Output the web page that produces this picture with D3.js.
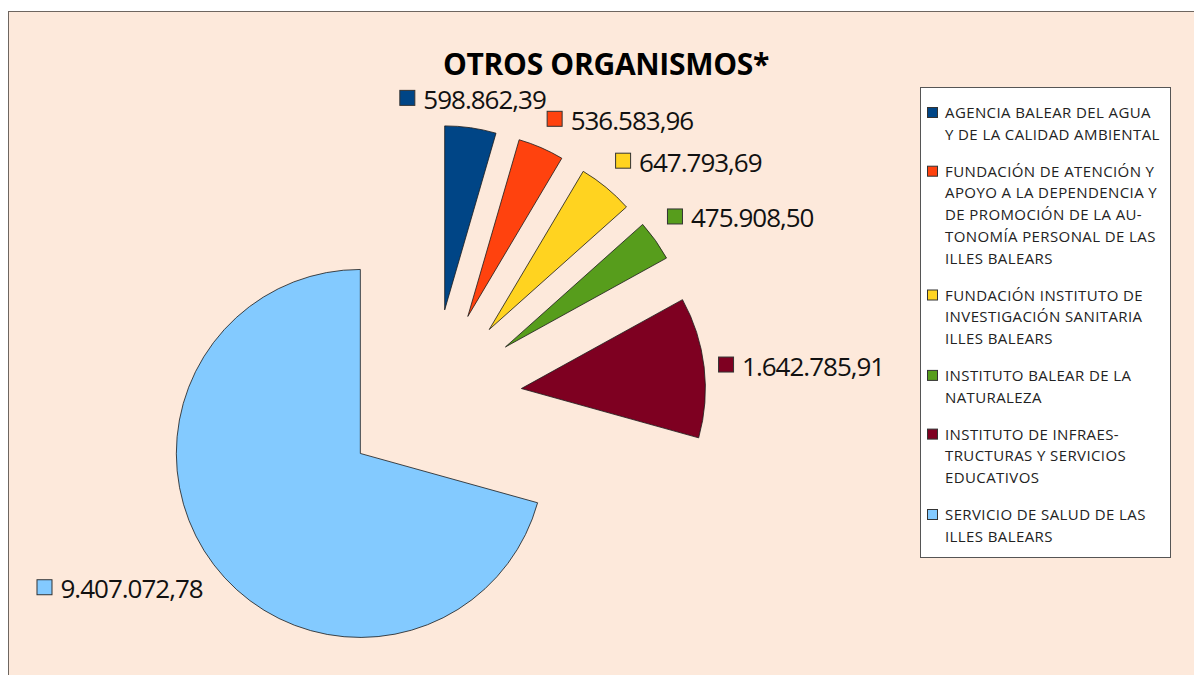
<!DOCTYPE html>
<html>
<head>
<meta charset="utf-8">
<script src="https://cdn.jsdelivr.net/npm/d3@7"></script>
<style>
  body { margin: 0; background: #fff; }
  svg { display: block; font-family: "Open Sans", "Noto Sans", sans-serif; }
</style>
</head>
<body>
<svg id="chart" width="1194" height="675"></svg>
<script>
// data
const categories = [
  "AGENCIA BALEAR DEL AGUA\nY DE LA CALIDAD AMBIENTAL",
  "FUNDACIÓN DE ATENCIÓN Y\nAPOYO A LA DEPENDENCIA Y\nDE PROMOCIÓN DE LA AU-\nTONOMÍA PERSONAL DE LAS\nILLES BALEARS",
  "FUNDACIÓN INSTITUTO DE\nINVESTIGACIÓN SANITARIA\nILLES BALEARS",
  "INSTITUTO BALEAR DE LA\nNATURALEZA",
  "INSTITUTO DE INFRAES-\nTRUCTURAS Y SERVICIOS\nEDUCATIVOS",
  "SERVICIO DE SALUD DE LAS\nILLES BALEARS"
];
const values = [598862.39, 536583.96, 647793.69, 475908.50, 1642785.91, 9407072.78];
const colors = ["#004586", "#ff420e", "#ffd320", "#579d1c", "#7e0021", "#83caff"];
const title = "OTROS ORGANISMOS*";

const svg = d3.select('#chart');

// background with the thin frame on the left/top
svg.append('rect')
  .attr('x', 8.5).attr('y', 11.5)
  .attr('width', 1300).attr('height', 800)
  .attr('fill', '#fde9db')
  .attr('stroke', '#6e6660')
  .attr('stroke-width', 1);

svg.append('text')
  .attr('x', 606).attr('y', 75)
  .attr('text-anchor', 'middle')
  .attr('font-size', 30).attr('font-weight', 'bold')
  .attr('letter-spacing', -0.3)
  .text(title);

const esLocale = d3.formatLocale({decimal: ",", thousands: ".", grouping: [3], currency: ["", ""]});
const fmt = esLocale.format(",.2f");

// pie, every slice pulled out along its middle angle
const cx = 432, cy = 399, radius = 184, explode = 90;

const pie = d3.pie().sort(null).value(d => d.value);
const arc = d3.arc().innerRadius(0).outerRadius(radius);
const slices = pie(values.map((v, i) => ({value: v, i})));

const g = svg.append('g').attr('transform', `translate(${cx}, ${cy})`);

g.selectAll('path')
  .data(slices)
  .enter()
  .append('path')
  .attr('d', arc)
  .attr('fill', d => colors[d.data.i])
  .attr('stroke', '#1a1a1a')
  .attr('stroke-width', 0.8)
  .attr('transform', d => {
    const a = (d.startAngle + d.endAngle) / 2;
    return `translate(${explode * Math.sin(a)}, ${-explode * Math.cos(a)})`;
  });

// value labels
const labelDist = radius + explode + 14;
const labelSize = 26, boxH = 30;

slices.forEach(d => {
  const a = (d.startAngle + d.endAngle) / 2;
  const dx = Math.sin(a), dy = -Math.cos(a);
  const px = labelDist * dx, py = labelDist * dy;
  const lab = g.append('g');
  const txt = lab.append('text')
    .attr('x', 24).attr('y', 0)
    .attr('font-size', labelSize)
    .attr('letter-spacing', -1)
    .attr('fill', '#111')
    .attr('dominant-baseline', 'central')
    .text(fmt(d.data.value));
  lab.append('rect')
    .attr('x', 0.5).attr('y', -8.5)
    .attr('width', 15).attr('height', 15)
    .attr('fill', colors[d.data.i])
    .attr('stroke', '#333').attr('stroke-width', 1);
  const w = 24 + txt.node().getComputedTextLength();
  let bx = px - w / 2;
  if (dx > 0.3) bx = px;
  else if (dx < -0.3) bx = px - w;
  let by = py;
  if (dy < -0.3) by = py - boxH / 2;
  else if (dy > 0.3) by = py + boxH / 2;
  lab.attr('transform', `translate(${bx}, ${by})`);
});

// legend
const legend = svg.append('g').attr('transform', 'translate(920, 87)');
legend.append('rect')
  .attr('x', 0.5).attr('y', 0.5)
  .attr('width', 250).attr('height', 470)
  .attr('fill', '#fff')
  .attr('stroke', '#555').attr('stroke-width', 1);

const lineH = 21.7, entryGap = 15.3;
let yy = 31;
categories.forEach((name, i) => {
  const lines = name.split('\n');
  legend.append('rect')
    .attr('x', 7.5).attr('y', yy - 10.5)
    .attr('width', 10).attr('height', 10)
    .attr('fill', colors[i])
    .attr('stroke', '#333').attr('stroke-width', 1);
  const t = legend.append('text')
    .attr('font-size', 15)
    .attr('letter-spacing', 0.4)
    .attr('fill', '#222');
  lines.forEach((ln, k) => {
    t.append('tspan').attr('x', 25).attr('y', yy + k * lineH).text(ln);
  });
  yy += lines.length * lineH + entryGap;
});
</script>
</body>
</html>
